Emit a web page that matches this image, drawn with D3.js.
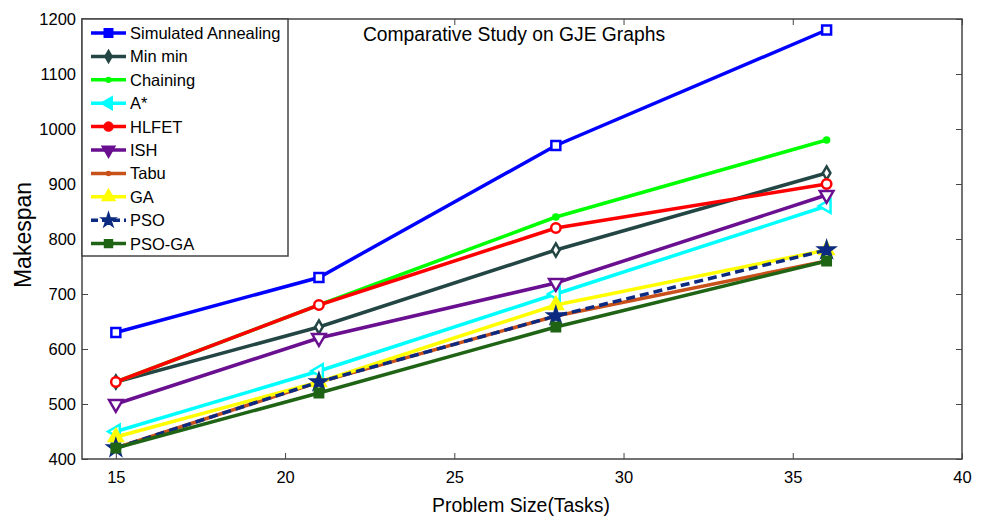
<!DOCTYPE html>
<html>
<head>
<meta charset="utf-8">
<script src="https://cdn.jsdelivr.net/npm/d3@7"></script>
<style>
  body { margin: 0; background: #fff; }
  text { font-family: Arial, "Liberation Sans", sans-serif; fill: #000; }
</style>
</head>
<body>
<div id="chart"></div>
<script>
// problem sizes (x) and makespan of each algorithm
const sizes = [15, 21, 28, 36];
const names = ["Simulated Annealing", "Min min", "Chaining", "A*", "HLFET", "ISH", "Tabu", "GA", "PSO", "PSO-GA"];
const saValues     = [630, 730, 970, 1180];
const minminValues = [540, 640, 780, 920];
const chainValues  = [540, 680, 840, 980];
const astarValues  = [450, 560, 700, 860];
const hlfetValues  = [540, 680, 820, 900];
const ishValues    = [500, 620, 720, 880];
const tabuValues   = [420, 540, 660, 760];
const gaValues     = [440, 540, 680, 780];
const psoValues    = [420, 540, 660, 780];
const psogaValues  = [420, 520, 640, 760];
const xTicks = [15, 20, 25, 30, 35, 40];
const yTicks = [400, 500, 600, 700, 800, 900, 1000, 1100, 1200];

const allValues = [saValues, minminValues, chainValues, astarValues, hlfetValues,
                   ishValues, tabuValues, gaValues, psoValues, psogaValues];

// look of each series
const styles = [
  {color: "#0000ff", shape: d3.symbolSquare,   size: 80,  rot: 0,   fill: "#fff"},
  {color: "#234645", shape: d3.symbolDiamond,  size: 50,  rot: 0,   fill: "#fff"},
  {color: "#00ff00", shape: d3.symbolCircle,   size: 20,  rot: 0,   fill: null},
  {color: "#00ffff", shape: d3.symbolTriangle, size: 80,  rot: -90, fill: "#fff"},
  {color: "#ff0000", shape: d3.symbolCircle,   size: 70,  rot: 0,   fill: "#fff"},
  {color: "#690f90", shape: d3.symbolTriangle, size: 80,  rot: 180, fill: "#fff"},
  {color: "#c8501a", shape: d3.symbolCircle,   size: 14,  rot: 0,   fill: null},
  {color: "#ffff00", shape: d3.symbolTriangle, size: 80,  rot: 0,   fill: null},
  {color: "#0c2a80", shape: d3.symbolStar,     size: 70,  rot: 0,   fill: null, dash: "9,5"},
  {color: "#1e6414", shape: d3.symbolSquare,   size: 70,  rot: 0,   fill: null}
];

const W = 988, H = 520;
const margin = {top: 19, right: 26, bottom: 61, left: 82};

const svg = d3.select("#chart").append("svg")
  .attr("width", W).attr("height", H);

const x = d3.scaleLinear().domain([14, 40]).range([margin.left, W - margin.right]);
const y = d3.scaleLinear().domain([400, 1200]).range([H - margin.bottom, margin.top]);

const plotLeft = x.range()[0], plotRight = x.range()[1];
const plotTop = y.range()[1], plotBottom = y.range()[0];

// axes with inward ticks, matlab style
svg.append("g")
  .attr("transform", `translate(0,${plotBottom})`)
  .call(d3.axisBottom(x).tickValues(xTicks).tickSizeInner(-6).tickSizeOuter(0).tickPadding(12))
  .call(g => g.select(".domain").remove())
  .call(g => g.selectAll("text").attr("font-size", 16.5));

svg.append("g")
  .attr("transform", `translate(0,${plotTop})`)
  .call(d3.axisTop(x).tickValues(xTicks).tickSizeInner(-6).tickSizeOuter(0).tickFormat(""))
  .call(g => g.select(".domain").remove());

svg.append("g")
  .attr("transform", `translate(${plotLeft},0)`)
  .call(d3.axisLeft(y).tickValues(yTicks).tickFormat(d3.format("d")).tickSizeInner(-6).tickSizeOuter(0).tickPadding(6))
  .call(g => g.select(".domain").remove())
  .call(g => g.selectAll("text").attr("font-size", 16.5));

svg.append("g")
  .attr("transform", `translate(${plotRight},0)`)
  .call(d3.axisRight(y).tickValues(yTicks).tickSizeInner(-6).tickSizeOuter(0).tickFormat(""))
  .call(g => g.select(".domain").remove());

svg.selectAll(".tick line").attr("stroke", "#444");

svg.append("rect")
  .attr("x", plotLeft).attr("y", plotTop)
  .attr("width", plotRight - plotLeft).attr("height", plotBottom - plotTop)
  .attr("fill", "none").attr("stroke", "#444").attr("stroke-width", 1.5);

// lines and markers
const line = d3.line().x((d, i) => x(sizes[i])).y(d => y(d));

allValues.forEach((vals, k) => {
  const s = styles[k];
  svg.append("path")
    .datum(vals)
    .attr("d", line)
    .attr("fill", "none")
    .attr("stroke", s.color)
    .attr("stroke-width", 3.5)
    .attr("stroke-dasharray", s.dash || null);

  svg.append("g").selectAll("path")
    .data(vals)
    .join("path")
    .attr("transform", (d, i) => `translate(${x(sizes[i])},${y(d)}) rotate(${s.rot})`)
    .attr("d", d3.symbol().type(s.shape).size(s.size))
    .attr("fill", s.fill || s.color)
    .attr("stroke", s.color)
    .attr("stroke-width", 2.5);
});

// legend
const legend = svg.append("g");
legend.append("rect")
  .attr("x", plotLeft).attr("y", plotTop)
  .attr("width", 206).attr("height", 237)
  .attr("fill", "#fff").attr("stroke", "#444").attr("stroke-width", 1.5);

names.forEach((name, k) => {
  const s = styles[k];
  const ly = plotTop + 14 + k * 23.4;
  legend.append("line")
    .attr("x1", plotLeft + 9).attr("x2", plotLeft + 44)
    .attr("y1", ly).attr("y2", ly)
    .attr("stroke", s.color).attr("stroke-width", 3.5)
    .attr("stroke-dasharray", s.dash ? "7,4" : null);
  legend.append("path")
    .attr("transform", `translate(${plotLeft + 26.5},${ly}) rotate(${s.rot})`)
    .attr("d", d3.symbol().type(s.shape).size(s.size * 0.9))
    .attr("fill", s.color)
    .attr("stroke", s.color)
    .attr("stroke-width", 1.5);
  legend.append("text")
    .attr("x", plotLeft + 48).attr("y", ly + 6)
    .attr("font-size", 16.5)
    .text(name);
});

// title and axis labels
svg.append("text")
  .attr("x", 514).attr("y", 41)
  .attr("text-anchor", "middle")
  .attr("font-size", 19.3)
  .text("Comparative Study on GJE Graphs");

svg.append("text")
  .attr("x", 521).attr("y", 512)
  .attr("text-anchor", "middle")
  .attr("font-size", 19.4)
  .attr("font-family", "'Liberation Sans Narrow', 'Arial Narrow', Arial, sans-serif")
  .text("Problem Size(Tasks)");

svg.append("text")
  .attr("transform", `translate(31,235) rotate(-90)`)
  .attr("text-anchor", "middle")
  .attr("font-size", 23)
  .attr("font-family", "'Liberation Sans Narrow', 'Arial Narrow', Arial, sans-serif")
  .text("Makespan");
</script>
</body>
</html>
